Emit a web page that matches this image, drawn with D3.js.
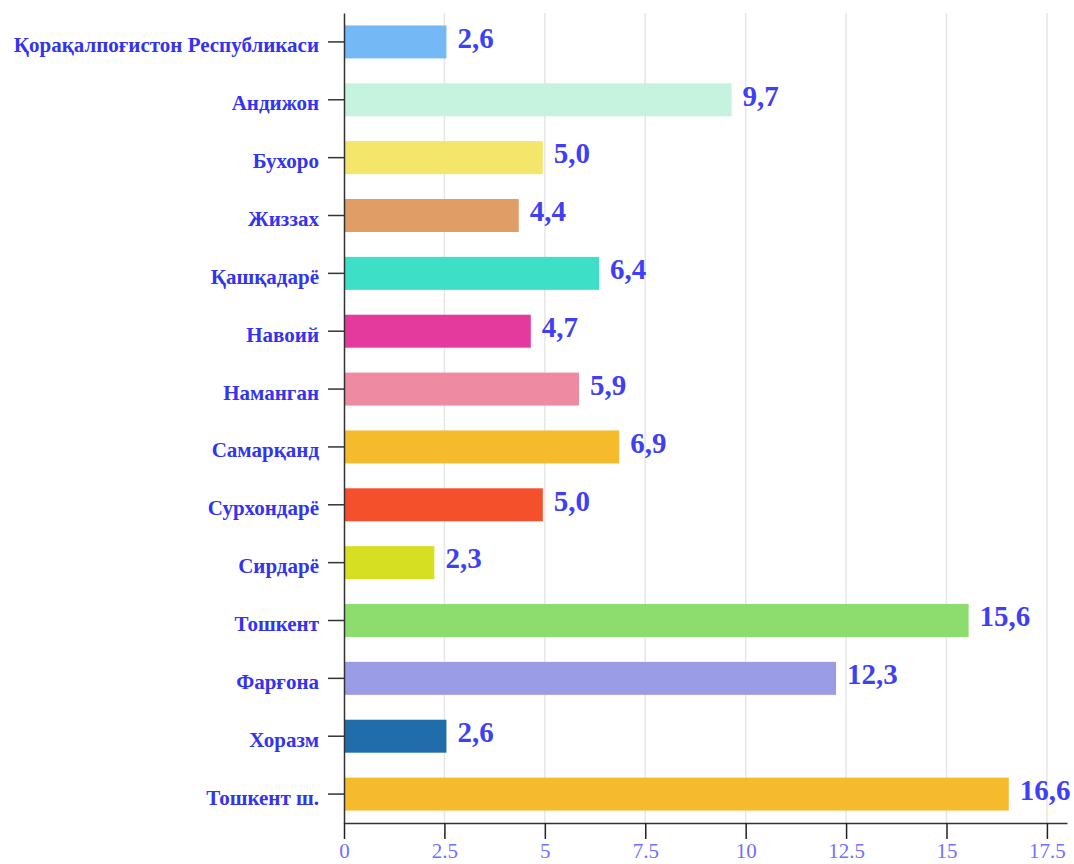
<!DOCTYPE html>
<html><head><meta charset="utf-8">
<script src="https://cdn.jsdelivr.net/npm/d3@7"></script>
<style>body{margin:0;background:#fff} svg text{font-family:"Liberation Serif","DejaVu Serif","Times New Roman",serif;}</style>
</head><body>
<script>
const categories = ["Қорақалпоғистон Республикаси","Андижон","Бухоро","Жиззах","Қашқадарё","Навоий","Наманган","Самарқанд","Сурхондарё","Сирдарё","Тошкент","Фарғона","Хоразм","Тошкент ш."];
const values = [2.6, 9.7, 5.0, 4.4, 6.4, 4.7, 5.9, 6.9, 5.0, 2.3, 15.6, 12.3, 2.6, 16.6];
const labels = ["2,6","9,7","5,0","4,4","6,4","4,7","5,9","6,9","5,0","2,3","15,6","12,3","2,6","16,6"];
const colors = ["#74b9f5","#c5f3df","#f3e66b","#e09d65","#3ddfc6","#e43a9e","#ee8aa1","#f6ba2d","#f4502b","#d6df22","#8cdc6e","#9a9ce6","#216dab","#f6ba2d"];
const tickValues = [0, 2.5, 5, 7.5, 10, 12.5, 15, 17.5];

(function () {
const W = 1074, H = 864;
const mLeft = 344, mRight = 1067, mTop = 13, mBottom = 823;
const FONT = '"Liberation Serif","DejaVu Serif","Times New Roman",serif';
const svg = d3.select("body").append("svg").attr("width", W).attr("height", H);

const x = d3.scaleLinear().domain([0, 18]).range([mLeft, mRight]);
const y = d3.scaleBand().domain(categories).range([mTop, mBottom]).paddingInner(0.43).paddingOuter(0.215);

// grid
svg.append("g").selectAll("line").data(tickValues.filter(d => d > 0)).join("line")
  .attr("x1", d => x(d)).attr("x2", d => x(d)).attr("y1", mTop).attr("y2", mBottom)
  .attr("stroke", "#e6e6e6").attr("stroke-width", 1.5);

// bars
svg.append("g").selectAll("rect").data(values).join("rect")
  .attr("x", x(0) + 1).attr("y", (d, i) => y(categories[i]))
  .attr("width", d => x(d) - x(0) - 3).attr("height", y.bandwidth())
  .attr("fill", (d, i) => colors[i]);

// value labels
svg.append("g").selectAll("text").data(values).join("text")
  .attr("x", d => x(d) + 9).attr("y", (d, i) => y(categories[i]) + y.bandwidth() / 2)
  .attr("dy", "0.2em")
  .style("font-family", FONT)
  .attr("font-weight", "bold").attr("font-size", 29).attr("fill", "#3f3ff5")
  .text((d, i) => labels[i]);

// y axis
const gy = svg.append("g").attr("transform", `translate(${mLeft},0)`)
  .call(d3.axisLeft(y).tickSize(16).tickPadding(9).tickSizeOuter(0));
gy.attr("font-family", null);
gy.select(".domain").attr("stroke", "#333").attr("stroke-width", 1.5);
gy.selectAll(".tick line").attr("stroke", "#333").attr("stroke-width", 1.5);
gy.selectAll("text").style("font-family", FONT)
  .attr("font-weight", "bold").attr("font-size", 21).attr("fill", "#3333f0").attr("dy", "0.5em");

// x axis
const gx = svg.append("g").attr("transform", `translate(0,${mBottom})`)
  .call(d3.axisBottom(x).tickValues(tickValues).tickFormat(d3.format("")).tickSize(16).tickPadding(4).tickSizeOuter(0));
gx.attr("font-family", null);
gx.select(".domain").attr("stroke", "#333").attr("stroke-width", 1.5);
gx.selectAll(".tick line").attr("stroke", "#222").attr("stroke-width", 1.5);
gx.selectAll("text").style("font-family", FONT)
  .attr("font-size", 21).attr("fill", "#7070ff");
})();
</script>
</body></html>
